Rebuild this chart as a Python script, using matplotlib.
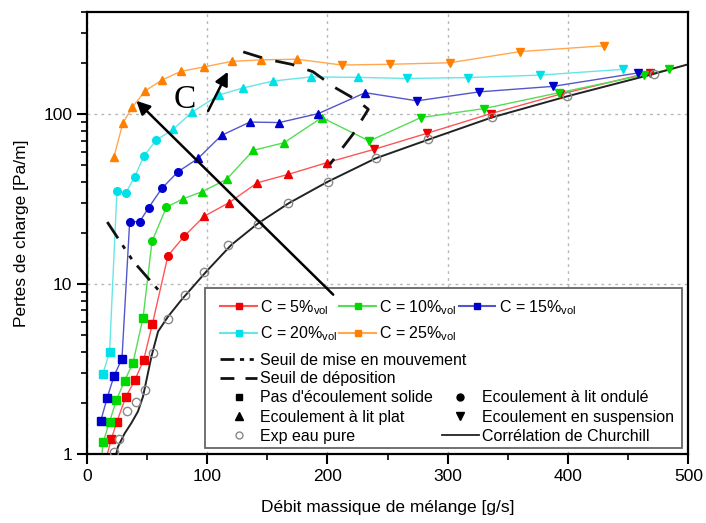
import matplotlib
matplotlib.use('Agg')
import matplotlib.pyplot as plt
from matplotlib.lines import Line2D
from matplotlib.patches import Rectangle
from matplotlib.ticker import NullFormatter, FixedLocator, LogLocator

plt.rcParams['font.family'] = ['Liberation Sans', 'DejaVu Sans']
plt.rcParams['mathtext.default'] = 'regular'

# --- data (x in g/s, y in Pa/m) ---
# markers: s = no solid flow, o = wavy bed, ^ = flat bed, v = suspension
c5_x = [15, 20.3, 25, 32.3, 39.8, 47.3, 54.5, 67.4, 80.8, 97.5, 118, 141.7, 167.5, 199.5, 238.9, 282.8, 336, 393, 468]
c5_y = [0.88, 1.22, 1.55, 2.16, 2.71, 3.59, 5.82, 14.7, 19.1, 25.1, 30.1, 39.5, 44.3, 51.9, 62.2, 77.3, 101, 131, 176]
c5_m = ['s'] * 7 + ['o'] * 2 + ['^'] * 5 + ['v'] * 5

c10_x = [11.8, 13.5, 18.9, 24.5, 31.4, 38.3, 46.7, 54.2, 66.2, 80, 95.8, 116.2, 138.3, 163.9, 195.3, 234.8, 277.5, 330, 392.5, 462.8, 484]
c10_y = [0.88, 1.17, 1.55, 2.07, 2.70, 3.43, 6.32, 17.9, 28.4, 31.8, 35, 41.4, 61.3, 68, 95.6, 69.6, 95.6, 108, 134, 170, 184]
c10_m = ['s'] * 7 + ['o'] * 2 + ['^'] * 6 + ['v'] * 6

c15_x = [11.6, 17, 22.5, 29.2, 35.6, 43.9, 51.4, 62.3, 75.8, 92.5, 112, 135.6, 160, 192.5, 231.4, 274.5, 326, 387.5, 457.8]
c15_y = [1.57, 2.15, 2.87, 3.64, 23.3, 23.3, 28.2, 36.6, 45.9, 55, 75.2, 90, 89.4, 101, 134, 120, 135.5, 146, 175]
c15_m = ['s'] * 4 + ['o'] * 5 + ['^'] * 6 + ['v'] * 4

c20_x = [13.3, 18.9, 25, 32.5, 39.8, 47.5, 57.5, 71.7, 87.5, 110, 130, 155, 186.4, 225, 266, 317, 376.4, 445.8]
c20_y = [2.96, 3.98, 35.3, 34.5, 42.9, 56.8, 70.3, 81.5, 103, 130, 143, 157, 166, 165, 162.5, 164.5, 170, 184]
c20_m = ['s'] * 2 + ['o'] * 5 + ['^'] * 7 + ['v'] * 4

c25_x = [22.5, 30, 37.8, 48.3, 62.3, 78.3, 97.3, 120.6, 144.8, 174.5, 212, 252, 301.7, 360, 429.5]
c25_y = [56, 89, 110, 137, 159, 179, 190, 205, 209, 211, 195, 197, 201, 234, 253]
c25_m = ['^'] * 10 + ['v'] * 5

water_x = [22.2, 26.4, 33.6, 40.6, 48.1, 55, 67.5, 82, 97.5, 117.5, 142.5, 167.5, 200.3, 240.3, 283.7, 337, 399, 471.7]
water_y = [1.03, 1.22, 1.78, 2.01, 2.39, 3.93, 6.23, 8.59, 11.8, 16.9, 22.7, 29.9, 39.9, 55, 71.2, 96.4, 128, 172]

churchill_x = [24.5, 25.8, 31.4, 37, 42.5, 46.7, 53.7, 59.2, 67.5, 78.7, 99.5, 120, 142, 168, 200, 240, 284, 337, 400, 470, 500]
churchill_y = [1.0, 1.10, 1.32, 1.52, 1.78, 2.18, 3.75, 5.26, 6.44, 8.09, 11.9, 17, 22.7, 30, 40, 55, 71, 96, 128, 172, 197]

mise_x = [17, 38.3, 61.4]
mise_y = [23.2, 13.7, 8.9]

depo_x = [130, 149.5, 170, 188, 206, 224.5, 234, 221, 202]
depo_y = [233, 211, 197, 178, 144, 121, 107, 76, 50.7]

series = [
    ('C = 5%$_{vol}$', c5_x, c5_y, c5_m, '#ff5555', '#ee0000'),
    ('C = 10%$_{vol}$', c10_x, c10_y, c10_m, '#55dd55', '#00d800'),
    ('C = 15%$_{vol}$', c15_x, c15_y, c15_m, '#5555cc', '#0000cc'),
    ('C = 20%$_{vol}$', c20_x, c20_y, c20_m, '#66e6e6', '#00e0e8'),
    ('C = 25%$_{vol}$', c25_x, c25_y, c25_m, '#ffa850', '#ff8000'),
]

fig = plt.figure(figsize=(7.06, 5.23), dpi=100)
ax = fig.add_axes([0.123, 0.132, 0.852, 0.845])

for label, xs, ys, ms, lc, mc in series:
    ax.plot(xs, ys, color=lc, lw=1.0, zorder=2)
    for mk in set(ms):
        px = [x for x, m in zip(xs, ms) if m == mk]
        py = [y for y, m in zip(ys, ms) if m == mk]
        ax.plot(px, py, ls='none', marker=mk, color=mc, ms=6 if mk in '^v' else 5.5, zorder=3)

ax.plot(churchill_x, churchill_y, color='#222222', lw=1.4, zorder=2)
ax.plot(water_x, water_y, ls='none', marker='o', mfc='none', mec='#888888', ms=6, mew=1.0, zorder=3)
ax.plot(mise_x, mise_y, color='#111111', lw=2.0, dashes=[7, 3, 1.5, 3, 1.5, 3], zorder=4)
ax.plot(depo_x, depo_y, color='#111111', lw=2.0, dashes=[7, 5], zorder=4)

# arrows and the "C" label
ax.annotate('', xy=(41.2, 120), xytext=(204.8, 8.67),
            arrowprops=dict(arrowstyle='-|>', color='k', lw=1.8, mutation_scale=20, shrinkA=0, shrinkB=0), zorder=6)
ax.annotate('', xy=(117.2, 178), xytext=(100.8, 104.6),
            arrowprops=dict(arrowstyle='-|>', color='k', lw=1.8, mutation_scale=20, shrinkA=0, shrinkB=0), zorder=6)
ax.text(81.4, 122.6, 'C', family='Liberation Serif', fontsize=24, ha='center', va='center')

ax.set_yscale('log')
ax.set_xlim(0, 500)
ax.set_ylim(1, 400)
ax.set_xticks([0, 100, 200, 300, 400, 500])
ax.xaxis.set_minor_locator(FixedLocator([50, 150, 250, 350, 450]))
ax.set_yticks([1, 10, 100])
ax.set_yticklabels(['1', '10', '100'])
ax.yaxis.set_minor_locator(LogLocator(base=10, subs=range(2, 10)))
ax.yaxis.set_minor_formatter(NullFormatter())
ax.tick_params(which='major', direction='out', length=7, width=1.5, labelsize=12.5)
ax.tick_params(which='minor', direction='out', length=4, width=1.2)
for s in ax.spines.values():
    s.set_linewidth(1.6)
ax.grid(True, which='major', ls=(0, (2, 3)), color='#b8b8b8', lw=1.0)
ax.set_axisbelow(True)

ax.set_xlabel('Débit massique de mélange [g/s]', fontsize=12.5, labelpad=12)
ax.set_ylabel('Pertes de charge [Pa/m]', fontsize=12.5, labelpad=10)

# legend frame drawn by hand, filled by three frameless legends
box = Rectangle((0.196, 0.0136), 0.794, 0.362, transform=ax.transAxes,
                facecolor='white', edgecolor='#666666', lw=1.3, zorder=5)
ax.add_patch(box)

fs = 11.5
h_series = [Line2D([], [], color=lc, marker='s', mfc=mc, mec=mc, ms=5) for _, _, _, _, lc, mc in series]
lab_series = [s[0] for s in series]
order = [0, 3, 1, 4, 2]
leg1 = ax.legend([h_series[i] for i in order], [lab_series[i] for i in order], ncol=3,
                 loc='upper left', bbox_to_anchor=(0.222, 0.353), frameon=False, fontsize=fs,
                 borderpad=0, handlelength=2.3, handletextpad=0.2, columnspacing=0.1,
                 labelspacing=0.47, borderaxespad=0)
leg1.set_zorder(7)
ax.add_artist(leg1)

h_lines = [Line2D([], [], color='#111111', lw=2.0, dashes=[5, 2, 1.5, 2, 1.5, 2]),
           Line2D([], [], color='#111111', lw=2.0, dashes=[5, 4])]
leg2 = ax.legend(h_lines, ['Seuil de mise en mouvement', 'Seuil de déposition'],
                 loc='upper left', bbox_to_anchor=(0.222, 0.229), frameon=False, fontsize=fs,
                 borderpad=0, handlelength=2.3, handletextpad=0.2, labelspacing=0.22, borderaxespad=0)
leg2.set_zorder(7)
ax.add_artist(leg2)

h_marks = [Line2D([], [], ls='none', marker='s', color='k', ms=5),
           Line2D([], [], ls='none', marker='^', color='k', ms=6),
           Line2D([], [], ls='none', marker='o', mfc='none', mec='#888888', ms=5),
           Line2D([], [], ls='none', marker='o', color='k', ms=5),
           Line2D([], [], ls='none', marker='v', color='k', ms=6),
           Line2D([], [], color='#222222', lw=1.3)]
lab_marks = ["Pas d'écoulement solide", 'Ecoulement à lit plat', 'Exp eau pure',
             'Ecoulement à lit ondulé', 'Ecoulement en suspension', 'Corrélation de Churchill']
leg3 = ax.legend(h_marks, lab_marks, ncol=2, loc='upper left', bbox_to_anchor=(0.222, 0.144),
                 frameon=False, fontsize=fs, borderpad=0, handlelength=2.3, handletextpad=0.2,
                 columnspacing=0.56, labelspacing=0.27, borderaxespad=0)
leg3.set_zorder(7)

fig.savefig('out.png', dpi=100)
